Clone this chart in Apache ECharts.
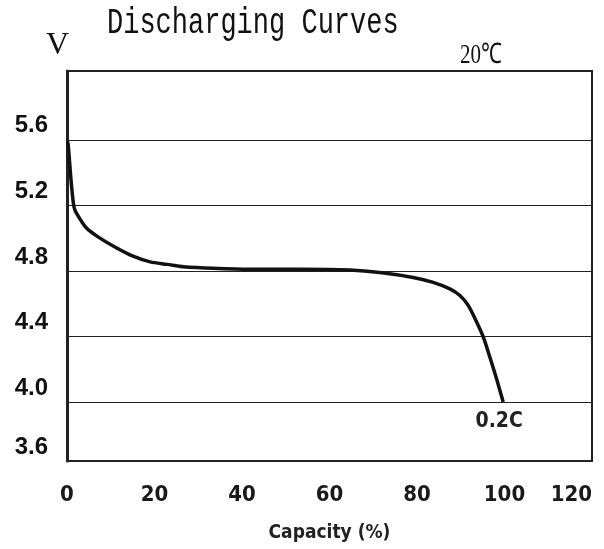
<!DOCTYPE html>
<html>
<head>
<meta charset="utf-8">
<script src="https://cdn.jsdelivr.net/npm/echarts@6/dist/echarts.min.js"></script>
<style>
  html, body { margin: 0; padding: 0; background: #fff; }
  #chart { width: 604px; height: 549px; }
</style>
</head>
<body>
<div id="chart"></div>
<script>
// 放电曲线 0.2C, 20℃
var capacity = [0, 0.23, 0.69, 1.07, 1.6, 2.22, 4.5, 7.54, 11.36, 15.09, 19.0, 22.9, 26.7, 30.4, 41.8, 53.3, 64.7, 71.5, 79.1, 83.7, 87.5, 89.8, 91.7, 93.6, 95.1, 96.7, 98.2, 99.7];
var voltage  = [5.59, 5.58, 5.43, 5.31, 5.19, 5.15, 5.06, 5.00, 4.94, 4.89, 4.855, 4.84, 4.825, 4.82, 4.81, 4.81, 4.805, 4.79, 4.76, 4.73, 4.69, 4.65, 4.59, 4.49, 4.40, 4.27, 4.14, 4.00];
var xTicks = [0, 20, 40, 60, 80, 100, 120];
var yTicks = [3.6, 4.0, 4.4, 4.8, 5.2, 5.6];

(function () {
  var chart = echarts.init(document.getElementById('chart'));

  var yMin = 3.64, yMax = 6.02;
  var points = capacity.map(function (c, i) { return [c, voltage[i]]; });
  var last = points[points.length - 1];
  var narrow = 'Liberation Sans Narrow, DejaVu Sans Condensed, sans-serif';

  var option = {
    backgroundColor: '#fff',
    animation: false,
    grid: {
      left: 67,
      right: 12,
      top: 71,
      bottom: 88,
      outerBoundsMode: 'none',
      show: true,
      borderColor: '#222',
      borderWidth: 2
    },
    graphic: [
      { type: 'text', x: 107, y: 4, scaleY: 1.4, style: { text: 'Discharging Curves', fontFamily: 'Liberation Mono, monospace', fontSize: 27, fill: '#111', verticalAlign: 'top' } },
      { type: 'text', x: 46, y: 30, style: { text: 'V', fontFamily: 'Liberation Serif, serif', fontSize: 32, fill: '#111', verticalAlign: 'top' } },
      { type: 'text', x: 460, y: 41, scaleY: 1.35, style: { text: '20℃', fontFamily: 'Liberation Serif, serif', fontSize: 21, fill: '#111', verticalAlign: 'top' } }
    ],
    xAxis: {
      type: 'value',
      min: 0,
      max: 120,
      interval: 20,
      name: 'Capacity (%)',
      nameLocation: 'middle',
      nameGap: 63,
      nameTextStyle: {
        color: '#222',
        fontFamily: narrow,
        fontWeight: 'bold',
        fontSize: 19
      },
      axisLine: { show: true, lineStyle: { color: '#222', width: 2 } },
      axisTick: { show: false },
      splitLine: { show: false },
      axisLabel: {
        margin: 23,
        color: '#1a1a1a',
        fontFamily: narrow,
        fontWeight: 'bold',
        fontSize: 22,
        alignMaxLabel: 'right',
        formatter: function (v) { return xTicks.indexOf(v) >= 0 ? String(v) : ''; }
      }
    },
    yAxis: {
      type: 'value',
      min: yMin,
      max: yMax,
      axisLine: { show: true, lineStyle: { color: '#222', width: 3 } },
      axisTick: { show: false, customValues: yTicks.slice(1) },
      splitLine: { show: true, lineStyle: { color: '#222', width: 1.2 } },
      axisLabel: {
        // 3.6 落在坐标轴底边
        customValues: yTicks.map(function (v) { return Math.max(v, yMin); }),
        margin: 19,
        color: '#111',
        fontFamily: 'Liberation Sans, Arial, sans-serif',
        fontWeight: 'bold',
        fontSize: 24,
        verticalAlign: 'bottom',
        lineHeight: 28,
        formatter: function (v) { return v.toFixed(1); }
      }
    },
    series: [{
      type: 'line',
      data: points,
      smooth: 0.3,
      symbol: 'none',
      lineStyle: { color: '#111', width: 3.5 },
      markPoint: {
        symbol: 'circle',
        symbolSize: 0,
        silent: true,
        data: [{ coord: last }],
        label: {
          show: true,
          formatter: '0.2C',
          position: 'bottom',
          distance: 9,
          offset: [-4, 0],
          color: '#222',
          fontFamily: narrow,
          fontWeight: 'bold',
          fontSize: 21
        }
      }
    }]
  };

  chart.setOption(option);
})();
</script>
</body>
</html>
